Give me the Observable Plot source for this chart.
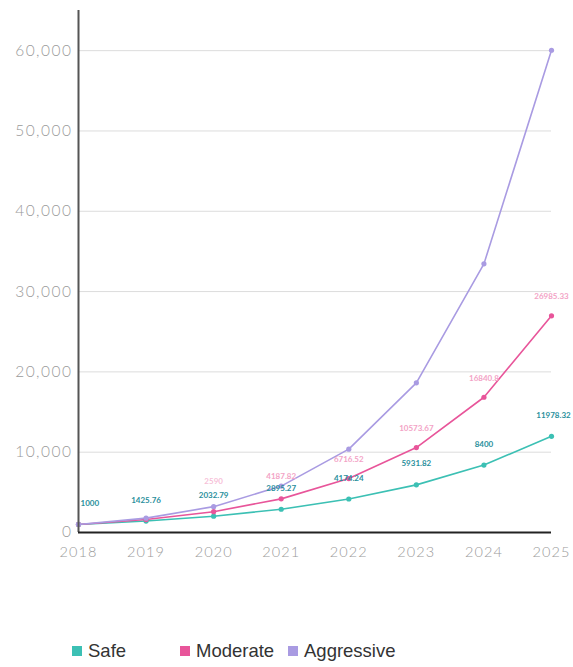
<!DOCTYPE html>
<html>
<head>
<meta charset="utf-8">
<script src="https://cdn.jsdelivr.net/npm/d3@7"></script>
<script src="https://cdn.jsdelivr.net/npm/@observablehq/plot@0.6"></script>
<style>
  body { margin: 0; background: #fff; }
  #chart svg { display: block; }
  #chart g[aria-label="y-axis tick label"] text { letter-spacing: 1.5px; }
  #chart g[aria-label="x-axis tick label"] text { letter-spacing: 1.1px; }
  .legend { position: relative; height: 67px; font-family: "Liberation Sans", Arial, sans-serif; font-size: 18.5px; color: #333; }
  .legend .item { position: absolute; top: 40px; display: flex; align-items: center; }
  .legend .sw { width: 10px; height: 10px; margin-right: 6px; }
</style>
</head>
<body>
<div id="chart"></div>
<div class="legend" id="legend"></div>
<script>
const years = [2018, 2019, 2020, 2021, 2022, 2023, 2024, 2025];
const series = ["Safe", "Moderate", "Aggressive"];
const safe = [1000, 1425.76, 2032.79, 2895.27, 4174.24, 5931.82, 8400, 11978.32];
const moderate = [1000, 1610, 2590, 4187.82, 6716.52, 10573.67, 16840.8, 26985.33];
const aggressive = [1000, 1790, 3220, 5780, 10380, 18640, 33450, 60050];
const yTicks = [0, 10000, 20000, 30000, 40000, 50000, 60000];
const colors = ["#3cc0b4", "#e8559a", "#a99be2"];
const labelColors = ["#2a8f9c", "#f3a3c6"];

const rows = [];
[safe, moderate, aggressive].forEach((vals, si) => {
  vals.forEach((v, i) => rows.push({series: series[si], year: years[i], value: v}));
});
const safeLabels = rows.filter(d => d.series === "Safe");
const modLabels = rows.filter(d => d.series === "Moderate" && d.year >= 2022);
const modLabel2021 = rows.filter(d => d.series === "Moderate" && d.year === 2021);
const modLabel2020 = rows.filter(d => d.series === "Moderate" && d.year === 2020);

const labelStyle = {x: "year", y: "value", text: d => String(d.value), fontSize: 8, fontWeight: 700};

const plot = Plot.plot({
  width: 573,
  height: 600,
  marginLeft: 78,
  marginRight: 22,
  marginTop: 10,
  marginBottom: 68,
  style: {fontFamily: "Lato, 'Open Sans', sans-serif", background: "#fff", overflow: "visible"},
  x: {domain: [2018, 2025], ticks: years, tickFormat: d3.format("d"), label: null, tickSize: 0, tickPadding: 14},
  y: {domain: [0, 65000], ticks: yTicks, tickFormat: d3.format(","), label: null, tickSize: 0, tickPadding: 6},
  color: {domain: series, range: colors},
  marks: [
    Plot.gridY(yTicks.filter(t => t > 0), {stroke: "#dcdcdc", strokeOpacity: 1, strokeWidth: 1}),
    Plot.axisY({ticks: yTicks, tickFormat: d3.format(","), tickSize: 0, tickPadding: 6, fontSize: 15.5, fill: "#9a9a9a", fontWeight: 300, label: null}),
    Plot.axisX({ticks: years, tickFormat: d3.format("d"), tickSize: 0, tickPadding: 14, fontSize: 14.5, fill: "#9a9a9a", fontWeight: 300, label: null}),
    Plot.line(rows, {x: "year", y: "value", z: "series", stroke: "series", strokeWidth: 1.6}),
    Plot.dot(rows, {x: "year", y: "value", fill: "series", r: 2.6}),
    Plot.text(modLabel2020, {...labelStyle, fill: labelColors[1], dy: -30, fillOpacity: 0.7}),
    Plot.text(modLabel2021, {...labelStyle, fill: labelColors[1], dy: -22}),
    Plot.text(modLabels, {...labelStyle, fill: labelColors[1], dy: -19}),
    Plot.text(safeLabels.filter(d => d.year > 2018 && d.year < 2025), {...labelStyle, fill: labelColors[0], dy: -21}),
    Plot.text(safeLabels.filter(d => d.year === 2018), {...labelStyle, fill: labelColors[0], dy: -21, dx: 2, textAnchor: "start"}),
    Plot.text(safeLabels.filter(d => d.year === 2025), {...labelStyle, fill: labelColors[0], dy: -21, dx: 2}),
    Plot.ruleX([2018], {y1: 0, y2: 65000, stroke: "#555", strokeWidth: 2}),
    Plot.ruleY([0], {stroke: "#222", strokeWidth: 2})
  ]
});
document.getElementById("chart").appendChild(plot);

const legend = document.getElementById("legend");
const lefts = [72, 180, 288];
series.forEach((s, i) => {
  const it = document.createElement("div");
  it.className = "item";
  it.style.left = lefts[i] + "px";
  it.innerHTML = `<span class="sw" style="background:${colors[i]}"></span><span>${s}</span>`;
  legend.appendChild(it);
});
</script>
</body>
</html>
